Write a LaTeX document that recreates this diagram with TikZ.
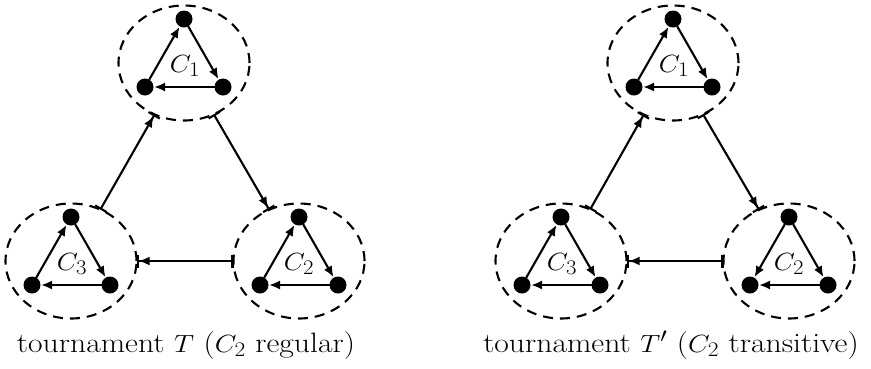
\documentclass[tikz,border=0pt]{standalone}
\usepackage{graphicx}
\usetikzlibrary{arrows.meta,shapes.geometric}
\tikzset{
  cluster/.style={ellipse, draw, dashed, dash pattern=on 10pt off 7pt, line width=2.1pt,
    minimum width=131pt, minimum height=115pt, inner sep=0pt, outer sep=0pt},
  dot/.style={circle, fill=black, draw=none, minimum size=17pt, inner sep=0pt, outer sep=0pt},
  edge/.style={line width=2.1pt, -{Latex[length=11pt,width=9pt]}, shorten >=0.5pt},
  conn/.style={line width=2.1pt, {Bar[width=13pt,line width=2.1pt]}-{Latex[length=11pt,width=9pt] Bar[width=13pt,line width=2.1pt]}},
  clabel/.style={font=\fontsize{27.5}{32}\selectfont, inner sep=0pt},
  caption/.style={font=\fontsize{28}{33}\selectfont, inner sep=0pt, anchor=base}
}
\newcommand{\hs}[1]{\scalebox{1.1}[1]{#1}}
\newcommand{\hc}[1]{\scalebox{1.13}[1]{#1}}
\begin{document}
\begin{tikzpicture}[x=1pt,y=-1pt]
\useasboundingbox (0,0) rectangle (871,368);
% ---------- left tournament T ----------
\node[cluster] (L1) at (184,63) {};
\node[cluster] (L2) at (299,261) {};
\node[cluster] (L3) at (71,261) {};
\foreach \c/\x/\y in {L1/184/63, L2/299/261, L3/71/261}{
  \node[dot] (\c t) at (\x,\y-44) {};
  \node[dot] (\c l) at (\x-39,\y+24) {};
  \node[dot] (\c r) at (\x+39,\y+24) {};
}
\node[clabel] (L1c) at (185,66) {\hs{$C_1$}};
\node[clabel] (L2c) at (299,264) {\hs{$C_2$}};
\node[clabel] (L3c) at (72,264) {\hs{$C_3$}};
\foreach \c in {L1,L2,L3}{
  \draw[edge] (\c l) -- (\c t);
  \draw[edge] (\c t) -- (\c r);
  \draw[edge] (\c r) -- (\c l);
}
\draw[conn] (L1) -- (L2);
\draw[conn] (L2) -- (L3);
\draw[conn] (L3) -- (L1);
\node[caption] (capL) at (186,352) {\hc{tournament $T$ ($C_2$ regular)}};
% ---------- right tournament T' ----------
\node[cluster] (R1) at (673,63) {};
\node[cluster] (R2) at (789,261) {};
\node[cluster] (R3) at (561,261) {};
\foreach \c/\x/\y in {R1/673/63, R2/789/261, R3/561/261}{
  \node[dot] (\c t) at (\x,\y-44) {};
  \node[dot] (\c l) at (\x-39,\y+24) {};
  \node[dot] (\c r) at (\x+39,\y+24) {};
}
\node[clabel] (R1c) at (674,66) {\hs{$C_1$}};
\node[clabel] (R2c) at (789,264) {\hs{$C_2$}};
\node[clabel] (R3c) at (562,264) {\hs{$C_3$}};
\foreach \c in {R1,R3}{
  \draw[edge] (\c l) -- (\c t);
  \draw[edge] (\c t) -- (\c r);
  \draw[edge] (\c r) -- (\c l);
}
\draw[edge] (R2t) -- (R2l);
\draw[edge] (R2t) -- (R2r);
\draw[edge] (R2r) -- (R2l);
\draw[conn] (R1) -- (R2);
\draw[conn] (R2) -- (R3);
\draw[conn] (R3) -- (R1);
\node[caption] (capR) at (671,352) {\hc{tournament $T'$ ($C_2$ transitive)}};
\end{tikzpicture}
\end{document}
